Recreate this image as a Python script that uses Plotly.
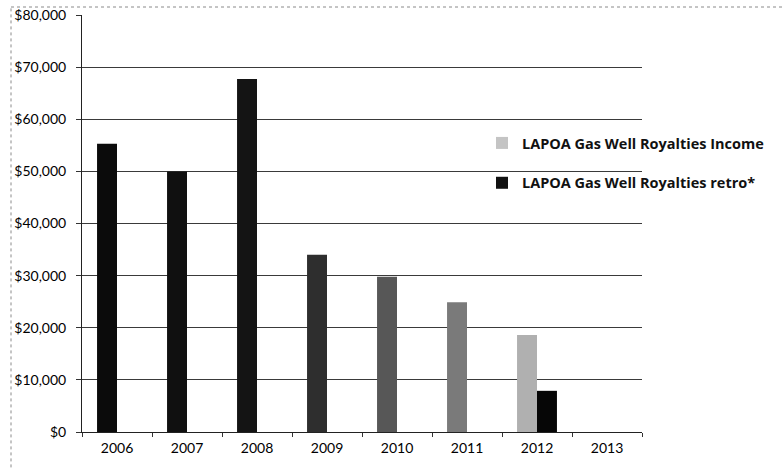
import plotly.graph_objects as go

years = ["2006", "2007", "2008", "2009", "2010", "2011", "2012", "2013"]
income = [55300, 50000, 67700, 34000, 29800, 24900, 18600, None]
retro = [None, None, None, None, None, None, 7900, None]
income_colors = ["#0b0b0b", "#101010", "#141414", "#2e2e2e", "#575757", "#7a7a7a", "#b0b0b0", "#b0b0b0"]
series_names = ["LAPOA Gas Well Royalties Income", "LAPOA Gas Well Royalties retro*"]
y_ticks = [0, 10000, 20000, 30000, 40000, 50000, 60000, 70000, 80000]
y_labels = ["$0", "$10,000", "$20,000", "$30,000", "$40,000", "$50,000", "$60,000", "$70,000", "$80,000"]

W, H = 784, 468
L, R, T, B = 82, 142, 15, 36
pw = W - L - R
ph = H - T - B

fig = go.Figure()
fig.add_trace(go.Bar(x=years, y=income, marker=dict(color=income_colors, line=dict(width=0)),
                     offsetgroup="a", showlegend=False, name=series_names[0]))
fig.add_trace(go.Bar(x=years, y=retro, marker=dict(color="#060606", line=dict(width=0)),
                     offsetgroup="b", showlegend=False, name=series_names[1]))
# legend entries
fig.add_trace(go.Bar(x=[years[0]], y=[None], marker=dict(color="#c4c4c4", line=dict(width=0)),
                     offsetgroup="a", name=series_names[0], legendgroup="g1"))
fig.add_trace(go.Bar(x=[years[0]], y=[None], marker=dict(color="#111111", line=dict(width=0)),
                     offsetgroup="b", name=series_names[1], legendgroup="g2"))

bx = (11 - L) / pw
by = (432 - 7) / ph
border = dict(color="#8a8a8a", width=1, dash="dot")

fig.update_layout(
    width=W, height=H,
    margin=dict(l=L, r=R, t=T, b=B, pad=0, autoexpand=False),
    paper_bgcolor="white", plot_bgcolor="white",
    barmode="group", bargap=0.43, bargroupgap=0,
    font=dict(family="Lato", size=14, color="#000000"),
    legend=dict(x=(482 - L) / pw, y=(432 - 127) / ph, xanchor="left", yanchor="top",
                font=dict(family="Open Sans", size=14.5, color="#111111", weight="bold"),
                tracegroupgap=18, bgcolor="rgba(0,0,0,0)", itemwidth=30),
    xaxis=dict(type="category", categoryorder="array", categoryarray=years,
               showline=True, linecolor="#222222", linewidth=1,
               ticks="outside", tickson="boundaries", ticklen=4, tickcolor="#333333",
               showgrid=False, tickfont=dict(size=14), fixedrange=True, automargin=False,
               ticklabelstandoff=3),
    yaxis=dict(range=[0, 80000], tickvals=y_ticks, ticktext=y_labels,
               showline=True, linecolor="#222222", linewidth=1,
               ticks="outside", ticklen=5, tickcolor="#333333",
               showgrid=True, gridcolor="#3a3a3a", gridwidth=1,
               zeroline=False, tickfont=dict(size=14), ticklabelstandoff=7, automargin=False),
    shapes=[
        dict(type="line", xref="paper", yref="paper", x0=bx, x1=1.3, y0=by, y1=by,
             line=border, layer="below"),
        dict(type="line", xref="paper", yref="paper", x0=bx, x1=bx, y0=-0.2, y1=by,
             line=border, layer="below"),
    ],
)

fig.write_html("out.html", config={"displayModeBar": False},
               post_script="document.body.style.margin='0';")
